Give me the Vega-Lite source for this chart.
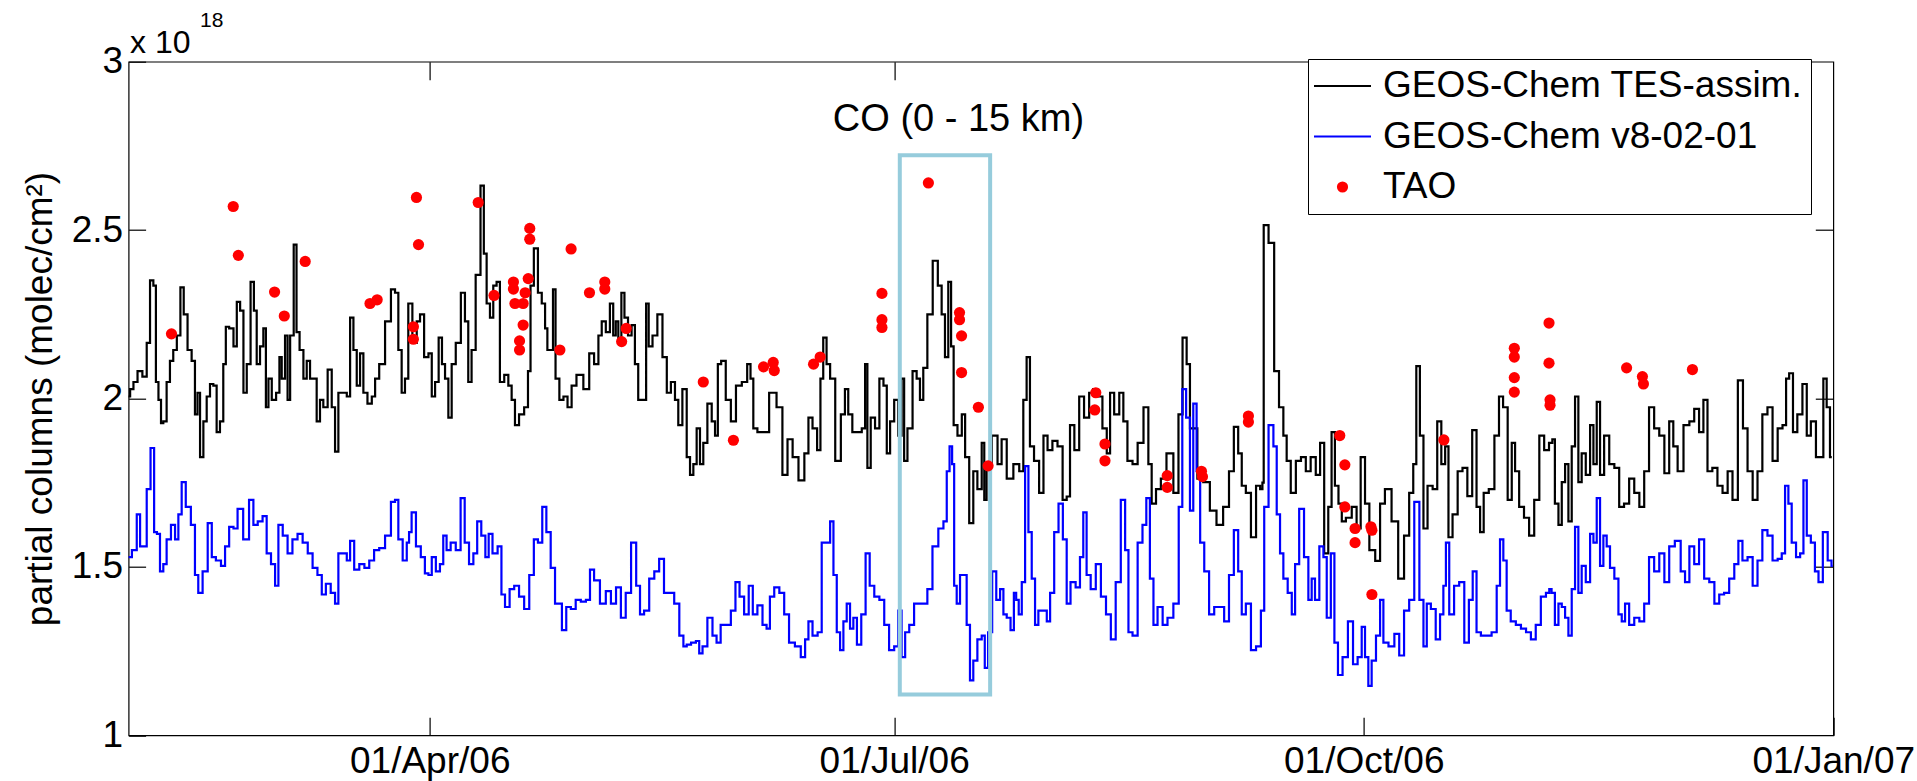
{
  "$schema": "https://vega.github.io/schema/vega-lite/v6.json",
  "width": 1704.7,
  "height": 673.6,
  "autosize": "none",
  "padding": {"left": 128.6, "top": 61.7, "right": 83.7, "bottom": 45.7},
  "background": "white",
  "config": {
    "font": "Liberation Sans",
    "view": {"stroke": "black", "strokeWidth": 1.2},
    "axis": {"grid": false, "domain": false, "tickColor": "black", "tickWidth": 1.2, "labelColor": "black", "labelFont": "Liberation Sans", "labelFontSize": 37, "titleFont": "Liberation Sans", "titleFontSize": 37, "titleFontWeight": "normal", "titleColor": "black"}
  },
  "datasets": {
    "tes": [
      {"d":0,"v":2.006},{"d":0.6,"v":2.028},{"d":1.3,"v":2.049},{"d":2.2,"v":2.081},{"d":3.2,"v":2.065},{"d":3.9,"v":2.165},{"d":4.5,"v":2.351},{"d":5.2,"v":2.335},{"d":5.5,"v":2.049},{"d":6.2,"v":1.996},{"d":6.5,"v":1.927},{"d":7.1,"v":1.932},{"d":7.8,"v":2.049},{"d":8.4,"v":2.112},{"d":9.1,"v":2.144},{"d":9.8,"v":2.187},{"d":10.5,"v":2.33},{"d":11.1,"v":2.25},{"d":12.0,"v":2.144},{"d":12.7,"v":2.112},{"d":13.3,"v":1.953},{"d":13.7,"v":2.017},{"d":14.3,"v":1.826},{"d":15.0,"v":1.932},{"d":15.6,"v":2.006},{"d":16.3,"v":2.043},{"d":16.9,"v":2.038},{"d":17.6,"v":1.9},{"d":18.2,"v":1.932},{"d":18.9,"v":2.102},{"d":19.2,"v":2.213},{"d":20.2,"v":2.208},{"d":20.9,"v":2.155},{"d":21.5,"v":2.287},{"d":22.2,"v":2.261},{"d":22.8,"v":2.017},{"d":23.5,"v":2.102},{"d":24.3,"v":2.346},{"d":24.8,"v":2.261},{"d":25.4,"v":2.102},{"d":26.1,"v":2.155},{"d":26.7,"v":2.208},{"d":27.1,"v":1.974},{"d":27.7,"v":2.059},{"d":28.4,"v":1.996},{"d":29.4,"v":2.017},{"d":29.7,"v":2.123},{"d":30.3,"v":2.059},{"d":31.0,"v":2.187},{"d":31.3,"v":1.996},{"d":32.0,"v":2.187},{"d":32.7,"v":2.457},{"d":33.1,"v":2.197},{"d":33.9,"v":2.144},{"d":34.6,"v":2.059},{"d":35.2,"v":2.112},{"d":35.9,"v":2.059},{"d":36.5,"v":2.059},{"d":37.2,"v":1.932},{"d":37.8,"v":1.996},{"d":38.5,"v":1.974},{"d":39.5,"v":2.086},{"d":40.1,"v":1.974},{"d":40.8,"v":1.842},{"d":41.4,"v":2.017},{"d":42.4,"v":2.017},{"d":43.1,"v":2.006},{"d":43.7,"v":2.24},{"d":44.4,"v":2.144},{"d":45.0,"v":2.038},{"d":45.7,"v":2.134},{"d":46.3,"v":2.017},{"d":47.3,"v":1.985},{"d":48.0,"v":2.006},{"d":48.6,"v":2.059},{"d":49.6,"v":2.102},{"d":50.9,"v":2.229},{"d":51.9,"v":2.324},{"d":52.5,"v":2.314},{"d":53.2,"v":2.144},{"d":53.8,"v":2.017},{"d":54.5,"v":2.059},
      {"d":55.1,"v":2.282},{"d":56.1,"v":2.165},{"d":56.8,"v":2.229},{"d":57.4,"v":2.25},{"d":58.4,"v":2.123},{"d":59.1,"v":2.134},{"d":59.7,"v":2.006},{"d":60.4,"v":2.049},{"d":61.1,"v":2.181},{"d":61.7,"v":2.102},{"d":62.3,"v":2.059},{"d":63.0,"v":1.943},{"d":63.6,"v":2.102},{"d":64.6,"v":2.165},{"d":65.6,"v":2.314},{"d":66.2,"v":2.229},{"d":66.9,"v":2.049},{"d":67.5,"v":2.144},{"d":68.5,"v":2.367},{"d":69.4,"v":2.632},{"d":69.8,"v":2.43},{"d":70.5,"v":2.282},{"d":71.1,"v":2.24},{"d":71.8,"v":2.335},{"d":72.4,"v":2.346},{"d":73.1,"v":2.049},{"d":74.1,"v":2.07},{"d":74.7,"v":2.038},{"d":75.4,"v":1.996},{"d":76.0,"v":1.921},{"d":77.0,"v":1.953},{"d":78.0,"v":1.974},{"d":78.5,"v":2.081},{"d":79.0,"v":2.335},{"d":79.8,"v":2.446},{"d":80.6,"v":2.314},{"d":81.3,"v":2.282},{"d":81.9,"v":2.208},{"d":82.2,"v":2.144},{"d":82.9,"v":2.144},{"d":83.4,"v":2.324},{"d":83.9,"v":2.059},{"d":84.9,"v":1.996},{"d":85.5,"v":2.006},{"d":86.5,"v":1.974},{"d":87.1,"v":2.038},{"d":88.4,"v":2.07},{"d":89.8,"v":2.028},{"d":90.7,"v":2.134},{"d":91.7,"v":2.102},{"d":92.4,"v":2.187},{"d":93.0,"v":2.229},{"d":94.0,"v":2.197},{"d":94.6,"v":2.282},{"d":95.3,"v":2.187},{"d":95.6,"v":2.229},{"d":96.3,"v":2.176},{"d":96.8,"v":2.314},{"d":97.5,"v":2.24},{"d":98.2,"v":2.187},{"d":98.9,"v":2.218},{"d":99.5,"v":2.102},{"d":100.2,"v":1.996},{"d":101.2,"v":1.996},{"d":101.6,"v":2.282},{"d":102.2,"v":2.155},{"d":103.1,"v":2.187},{"d":104.1,"v":2.25},{"d":105.1,"v":2.123},{"d":105.8,"v":2.017},{"d":106.7,"v":2.049},{"d":107.4,"v":1.996},{"d":108.0,"v":1.921},{"d":109.0,"v":2.028},{"d":109.7,"v":1.826},{"d":110.3,"v":1.773},
      {"d":111.0,"v":1.805},{"d":111.6,"v":1.911},{"d":112.3,"v":1.805},{"d":112.9,"v":1.868},{"d":113.9,"v":1.985},{"d":114.6,"v":1.932},{"d":115.2,"v":1.89},{"d":115.7,"v":2.102},{"d":116.5,"v":2.112},{"d":117.5,"v":1.996},{"d":118.5,"v":1.932},{"d":119.5,"v":2.038},{"d":120.8,"v":2.049},{"d":121.6,"v":2.102},{"d":122.1,"v":2.059},{"d":122.7,"v":1.911},{"d":123.7,"v":1.9},{"d":124.7,"v":1.9},{"d":126.3,"v":2.017},{"d":127.6,"v":1.974},{"d":128.6,"v":1.773},{"d":129.6,"v":1.879},{"d":130.6,"v":1.826},{"d":131.9,"v":1.757},{"d":132.9,"v":1.837},{"d":133.5,"v":1.943},{"d":134.5,"v":1.911},{"d":135.3,"v":1.847},{"d":135.8,"v":2.059},{"d":136.4,"v":2.181},{"d":137.1,"v":2.102},{"d":137.8,"v":2.059},{"d":139.1,"v":1.815},{"d":140.0,"v":1.953},{"d":140.7,"v":2.028},{"d":141.3,"v":1.953},{"d":142.3,"v":1.9},{"d":143.3,"v":1.9},{"d":144.0,"v":1.911},{"d":144.6,"v":2.102},{"d":144.9,"v":1.794},{"d":145.9,"v":1.943},{"d":146.6,"v":1.911},{"d":147.6,"v":2.059},{"d":148.2,"v":2.038},{"d":148.9,"v":1.837},{"d":149.5,"v":1.932},{"d":150.5,"v":1.996},{"d":151.1,"v":1.89},{"d":151.8,"v":2.059},{"d":152.1,"v":1.815},{"d":153.1,"v":1.911},{"d":154.1,"v":2.081},{"d":154.7,"v":2.059},{"d":155.4,"v":1.996},{"d":156.0,"v":2.091},{"d":157.0,"v":2.25},{"d":158.1,"v":2.409},{"d":159.0,"v":2.335},{"d":159.6,"v":2.25},{"d":160.3,"v":2.123},{"d":160.9,"v":2.346},{"d":161.4,"v":2.155},{"d":161.9,"v":1.921},{"d":162.9,"v":1.89},{"d":163.6,"v":1.953},{"d":164.2,"v":1.826},{"d":165.2,"v":1.63},{"d":165.8,"v":1.784},{"d":166.8,"v":1.731},{"d":167.5,"v":1.868},
      {"d":167.8,"v":1.699},{"d":168.4,"v":1.805},{"d":169.8,"v":1.89},{"d":170.7,"v":1.805},{"d":171.4,"v":1.879},{"d":172.7,"v":1.762},{"d":174.0,"v":1.805},{"d":175.0,"v":1.784},{"d":175.6,"v":1.996},{"d":176.3,"v":2.123},{"d":176.9,"v":1.858},{"d":177.9,"v":1.815},{"d":178.9,"v":1.72},{"d":179.6,"v":1.89},{"d":180.5,"v":1.847},{"d":181.5,"v":1.874},{"d":182.5,"v":1.858},{"d":183.5,"v":1.699},{"d":184.1,"v":1.709},{"d":184.8,"v":1.921},{"d":185.8,"v":1.847},{"d":186.7,"v":2.006},{"d":187.7,"v":1.943},{"d":188.7,"v":2.017},{"d":189.3,"v":2.028},{"d":190.3,"v":2.006},{"d":191.3,"v":1.911},{"d":192.0,"v":1.837},{"d":192.6,"v":2.017},{"d":193.6,"v":1.953},{"d":194.6,"v":2.017},{"d":195.2,"v":1.932},{"d":196.2,"v":1.815},{"d":197.2,"v":1.805},{"d":198.2,"v":1.868},{"d":199.5,"v":1.974},{"d":200.1,"v":1.805},{"d":200.8,"v":1.688},{"d":201.8,"v":1.731},{"d":202.7,"v":1.762},{"d":204.0,"v":1.837},{"d":205.4,"v":1.72},{"d":206.0,"v":1.953},{"d":207.0,"v":2.181},{"d":207.6,"v":2.102},{"d":208.3,"v":1.911},{"d":208.9,"v":1.911},{"d":209.9,"v":1.762},{"d":211.2,"v":1.752},{"d":212.5,"v":1.667},{"d":213.8,"v":1.625},{"d":215.1,"v":1.678},{"d":216.1,"v":1.784},{"d":217.0,"v":1.916},{"d":217.8,"v":1.837},{"d":218.4,"v":1.741},{"d":219.4,"v":1.72},{"d":220.4,"v":1.588},{"d":221.4,"v":1.741},{"d":222.0,"v":1.731},{"d":222.3,"v":1.75},{"d":222.5,"v":2.515},
      {"d":222.7,"v":2.515},{"d":224.0,"v":2.462},{"d":224.9,"v":2.081},{"d":225.9,"v":1.974},{"d":226.6,"v":1.89},{"d":227.2,"v":1.815},{"d":228.2,"v":1.72},{"d":229.2,"v":1.815},{"d":230.2,"v":1.826},{"d":231.1,"v":1.784},{"d":232.1,"v":1.826},{"d":233.1,"v":1.773},{"d":233.8,"v":1.868},{"d":234.7,"v":1.54},{"d":235.4,"v":1.678},{"d":236.0,"v":1.9},{"d":236.7,"v":1.741},{"d":237.4,"v":1.688},{"d":238.0,"v":1.635},{"d":239.0,"v":1.646},{"d":240.3,"v":1.678},{"d":240.9,"v":1.614},{"d":241.9,"v":1.826},{"d":242.6,"v":1.688},{"d":243.6,"v":1.55},{"d":244.9,"v":1.518},{"d":245.5,"v":1.688},{"d":246.8,"v":1.731},{"d":248.1,"v":1.635},{"d":249.4,"v":1.465},{"d":250.4,"v":1.593},{"d":251.4,"v":1.72},{"d":252.0,"v":1.805},{"d":252.6,"v":2.096},{"d":253.4,"v":1.89},{"d":254.0,"v":1.614},{"d":255.0,"v":1.741},{"d":256.0,"v":1.731},{"d":256.8,"v":1.932},{"d":257.6,"v":1.805},{"d":258.3,"v":1.858},{"d":258.9,"v":1.588},{"d":259.9,"v":1.656},{"d":260.9,"v":1.784},{"d":261.8,"v":1.794},{"d":262.8,"v":1.71},{"d":263.7,"v":1.906},{"d":264.5,"v":1.678},{"d":265.1,"v":1.603},{"d":265.9,"v":1.72},{"d":267.1,"v":1.731},{"d":268.1,"v":1.89},{"d":268.9,"v":2.006},{"d":269.7,"v":1.974},{"d":270.7,"v":1.699},{"d":271.3,"v":1.868},{"d":272.0,"v":1.784},{"d":272.9,"v":1.678},{"d":273.9,"v":1.646},{"d":274.9,"v":1.593},{"d":275.9,"v":1.699},{"d":276.9,"v":1.89},{"d":277.8,"v":1.847},{"d":278.8,"v":1.868},
      {"d":279.1,"v":1.879},{"d":279.8,"v":1.688},{"d":280.5,"v":1.625},{"d":281.1,"v":1.752},{"d":281.8,"v":1.805},{"d":282.4,"v":1.635},{"d":283.1,"v":1.858},{"d":283.7,"v":2.006},{"d":284.4,"v":1.752},{"d":285.0,"v":1.837},{"d":286.0,"v":1.773},{"d":286.7,"v":1.921},{"d":287.3,"v":1.805},{"d":288.0,"v":1.99},{"d":288.6,"v":1.773},{"d":289.6,"v":1.89},{"d":290.6,"v":1.805},{"d":291.6,"v":1.794},{"d":292.5,"v":1.678},{"d":293.5,"v":1.688},{"d":294.5,"v":1.762},{"d":295.5,"v":1.72},{"d":296.5,"v":1.678},{"d":297.4,"v":1.784},{"d":298.4,"v":1.974},{"d":299.4,"v":1.911},{"d":300.4,"v":1.89},{"d":301.4,"v":1.778},{"d":302.3,"v":1.932},{"d":303.0,"v":1.858},{"d":304.0,"v":1.784},{"d":305.3,"v":1.921},{"d":306.3,"v":1.932},{"d":307.2,"v":1.969},{"d":308.2,"v":1.9},{"d":308.9,"v":1.996},{"d":309.8,"v":1.784},{"d":310.8,"v":1.794},{"d":311.8,"v":1.741},{"d":312.8,"v":1.72},{"d":313.8,"v":1.784},{"d":314.7,"v":1.699},{"d":315.9,"v":2.054},{"d":316.7,"v":1.911},{"d":317.7,"v":1.784},{"d":318.7,"v":1.699},{"d":319.6,"v":1.784},{"d":320.6,"v":1.953},{"d":321.6,"v":1.974},{"d":322.6,"v":1.815},{"d":323.6,"v":1.911},{"d":324.5,"v":1.921},{"d":325.0,"v":2.059},{"d":325.7,"v":2.075},{"d":326.5,"v":1.9},{"d":327.4,"v":1.953},{"d":328.5,"v":2.043},{"d":329.1,"v":1.89},{"d":330.1,"v":1.932},{"d":331.1,"v":1.826},{"d":331.7,"v":1.826},{"d":332.4,"v":2.059},{"d":333.0,"v":1.974},{"d":333.7,"v":1.826}
    ],
    "v8": [
      {"d":0,"v":1.529},{"d":1.3,"v":1.55},{"d":1.9,"v":1.656},{"d":2.6,"v":1.561},{"d":3.2,"v":1.561},{"d":3.9,"v":1.731},{"d":4.7,"v":1.853},{"d":5.3,"v":1.603},{"d":5.8,"v":1.598},{"d":6.5,"v":1.487},{"d":7.1,"v":1.508},{"d":7.8,"v":1.582},{"d":8.8,"v":1.625},{"d":9.4,"v":1.582},{"d":10.1,"v":1.656},{"d":10.7,"v":1.752},{"d":11.7,"v":1.678},{"d":12.7,"v":1.625},{"d":13.3,"v":1.476},{"d":14.0,"v":1.423},{"d":15.0,"v":1.487},{"d":16.0,"v":1.63},{"d":16.6,"v":1.529},{"d":17.6,"v":1.519},{"d":18.6,"v":1.503},{"d":19.2,"v":1.561},{"d":20.2,"v":1.619},{"d":20.9,"v":1.614},{"d":21.8,"v":1.672},{"d":23.1,"v":1.582},{"d":24.1,"v":1.699},{"d":24.8,"v":1.625},{"d":25.8,"v":1.635},{"d":26.7,"v":1.651},{"d":27.4,"v":1.54},{"d":28.4,"v":1.508},{"d":29.0,"v":1.444},{"d":29.7,"v":1.625},{"d":30.7,"v":1.593},{"d":31.6,"v":1.54},{"d":32.6,"v":1.582},{"d":33.6,"v":1.598},{"d":34.6,"v":1.572},{"d":35.6,"v":1.54},{"d":36.5,"v":1.497},{"d":37.5,"v":1.476},{"d":38.2,"v":1.418},{"d":39.1,"v":1.45},{"d":40.1,"v":1.423},{"d":40.8,"v":1.391},{"d":41.4,"v":1.54},{"d":42.4,"v":1.54},{"d":43.1,"v":1.519},{"d":43.7,"v":1.577},{"d":44.7,"v":1.492},{"d":45.7,"v":1.508},{"d":46.7,"v":1.497},{"d":47.6,"v":1.519},{"d":48.6,"v":1.55},{"d":49.6,"v":1.556},{"d":50.9,"v":1.593},{"d":51.9,"v":1.693},{"d":52.5,"v":1.699},{"d":53.2,"v":1.582},{"d":54.2,"v":1.519},{"d":54.8,"v":1.572},
      {"d":55.1,"v":1.603},{"d":55.8,"v":1.662},{"d":56.8,"v":1.561},{"d":57.7,"v":1.529},{"d":58.4,"v":1.481},{"d":59.1,"v":1.476},{"d":59.7,"v":1.529},{"d":60.7,"v":1.487},{"d":61.3,"v":1.508},{"d":62.0,"v":1.593},{"d":62.6,"v":1.55},{"d":63.6,"v":1.572},{"d":64.6,"v":1.55},{"d":65.5,"v":1.704},{"d":66.2,"v":1.572},{"d":67.2,"v":1.508},{"d":67.9,"v":1.54},{"d":68.7,"v":1.635},{"d":69.5,"v":1.593},{"d":70.3,"v":1.529},{"d":70.8,"v":1.598},{"d":71.8,"v":1.54},{"d":72.8,"v":1.561},{"d":73.3,"v":1.418},{"d":74.2,"v":1.381},{"d":75.1,"v":1.434},{"d":76.0,"v":1.444},{"d":77.0,"v":1.412},{"d":78.0,"v":1.375},{"d":79.0,"v":1.476},{"d":79.8,"v":1.582},{"d":80.6,"v":1.572},{"d":81.5,"v":1.678},{"d":82.2,"v":1.603},{"d":83.2,"v":1.497},{"d":83.9,"v":1.391},{"d":84.5,"v":1.391},{"d":85.3,"v":1.312},{"d":86.2,"v":1.381},{"d":87.1,"v":1.375},{"d":88.1,"v":1.402},{"d":89.1,"v":1.397},{"d":90.1,"v":1.402},{"d":90.7,"v":1.492},{"d":91.7,"v":1.46},{"d":93.0,"v":1.391},{"d":94.0,"v":1.428},{"d":95.0,"v":1.391},{"d":96.0,"v":1.439},{"d":96.9,"v":1.349},{"d":97.9,"v":1.423},{"d":99.0,"v":1.572},{"d":99.9,"v":1.444},{"d":100.5,"v":1.359},{"d":101.5,"v":1.37},{"d":102.5,"v":1.465},{"d":103.5,"v":1.487},{"d":104.4,"v":1.524},{"d":105.4,"v":1.423},{"d":106.4,"v":1.423},{"d":107.4,"v":1.391},{"d":108.4,"v":1.296},{"d":109.0,"v":1.264},{"d":109.7,"v":1.269},{"d":110.7,"v":1.275},{"d":111.6,"v":1.28},
      {"d":112.0,"v":1.243},{"d":112.9,"v":1.264},{"d":113.9,"v":1.349},{"d":114.9,"v":1.296},{"d":115.5,"v":1.275},{"d":116.5,"v":1.328},{"d":117.5,"v":1.328},{"d":118.5,"v":1.37},{"d":119.3,"v":1.455},{"d":120.1,"v":1.412},{"d":121.1,"v":1.359},{"d":121.9,"v":1.444},{"d":122.7,"v":1.359},{"d":123.7,"v":1.386},{"d":124.7,"v":1.328},{"d":125.3,"v":1.317},{"d":126.0,"v":1.412},{"d":127.0,"v":1.439},{"d":128.0,"v":1.423},{"d":128.9,"v":1.359},{"d":129.9,"v":1.275},{"d":131.2,"v":1.264},{"d":132.2,"v":1.232},{"d":132.9,"v":1.285},{"d":133.5,"v":1.338},{"d":134.5,"v":1.296},{"d":135.5,"v":1.306},{"d":136.1,"v":1.572},{"d":137.1,"v":1.572},{"d":137.8,"v":1.635},{"d":138.4,"v":1.476},{"d":139.1,"v":1.306},{"d":139.7,"v":1.253},{"d":140.4,"v":1.338},{"d":141.0,"v":1.391},{"d":141.7,"v":1.317},{"d":142.3,"v":1.349},{"d":143.1,"v":1.269},{"d":144.0,"v":1.359},{"d":144.8,"v":1.54},{"d":145.6,"v":1.444},{"d":146.6,"v":1.412},{"d":147.6,"v":1.402},{"d":148.5,"v":1.328},{"d":149.5,"v":1.253},{"d":150.5,"v":1.264},{"d":151.1,"v":1.37},{"d":151.8,"v":1.232},{"d":152.5,"v":1.306},{"d":153.4,"v":1.328},{"d":154.4,"v":1.391},{"d":156.0,"v":1.391},{"d":157.0,"v":1.434},{"d":158.0,"v":1.561},{"d":159.3,"v":1.614},{"d":160.0,"v":1.635},{"d":160.6,"v":1.784},{"d":161.1,"v":1.858},{"d":161.6,"v":1.805},{"d":161.9,"v":1.444},{"d":162.6,"v":1.391},{"d":163.2,"v":1.476},{"d":163.9,"v":1.476},{"d":164.5,"v":1.328},{"d":165.2,"v":1.163},{"d":165.8,"v":1.222},{"d":166.8,"v":1.285},{"d":167.5,"v":1.296},
      {"d":168.0,"v":1.2},{"d":168.8,"v":1.306},{"d":169.6,"v":1.487},{"d":170.4,"v":1.402},{"d":171.1,"v":1.434},{"d":171.7,"v":1.359},{"d":172.4,"v":1.349},{"d":173.2,"v":1.312},{"d":173.7,"v":1.423},{"d":174.1,"v":1.402},{"d":174.7,"v":1.359},{"d":175.3,"v":1.455},{"d":176.0,"v":1.799},{"d":176.6,"v":1.603},{"d":177.3,"v":1.465},{"d":177.9,"v":1.328},{"d":178.6,"v":1.37},{"d":179.6,"v":1.37},{"d":180.2,"v":1.338},{"d":180.9,"v":1.423},{"d":181.8,"v":1.603},{"d":182.6,"v":1.688},{"d":183.5,"v":1.582},{"d":184.1,"v":1.391},{"d":185.0,"v":1.455},{"d":186.1,"v":1.439},{"d":186.7,"v":1.529},{"d":187.4,"v":1.662},{"d":188.0,"v":1.476},{"d":189.0,"v":1.434},{"d":190.0,"v":1.508},{"d":191.0,"v":1.412},{"d":192.0,"v":1.359},{"d":192.9,"v":1.285},{"d":193.9,"v":1.455},{"d":194.9,"v":1.699},{"d":195.6,"v":1.55},{"d":196.2,"v":1.306},{"d":197.2,"v":1.296},{"d":198.2,"v":1.572},{"d":199.1,"v":1.625},{"d":199.7,"v":1.704},{"d":200.5,"v":1.465},{"d":201.1,"v":1.328},{"d":202.1,"v":1.381},{"d":203.1,"v":1.328},{"d":204.0,"v":1.349},{"d":205.4,"v":1.391},{"d":206.1,"v":1.678},{"d":206.8,"v":2.028},{"d":207.6,"v":1.943},{"d":208.3,"v":1.667},{"d":208.9,"v":1.985},{"d":209.6,"v":1.784},{"d":210.3,"v":1.572},{"d":211.2,"v":1.487},{"d":212.2,"v":1.359},{"d":213.2,"v":1.381},{"d":214.2,"v":1.381},{"d":215.1,"v":1.338},{"d":216.1,"v":1.476},{"d":217.0,"v":1.609},{"d":217.8,"v":1.487},{"d":218.4,"v":1.359},{"d":219.4,"v":1.391},{"d":220.4,"v":1.253},{"d":221.4,"v":1.264},{"d":222.3,"v":1.37},
      {"d":222.7,"v":1.678},{"d":224.0,"v":1.921},{"d":224.6,"v":1.858},{"d":225.3,"v":1.656},{"d":225.9,"v":1.54},{"d":226.6,"v":1.465},{"d":227.6,"v":1.423},{"d":228.2,"v":1.359},{"d":228.9,"v":1.508},{"d":229.8,"v":1.672},{"d":230.8,"v":1.529},{"d":231.5,"v":1.402},{"d":232.1,"v":1.465},{"d":232.8,"v":1.402},{"d":233.8,"v":1.561},{"d":234.4,"v":1.529},{"d":235.1,"v":1.349},{"d":236.0,"v":1.54},{"d":236.5,"v":1.275},{"d":237.4,"v":1.179},{"d":238.3,"v":1.232},{"d":239.5,"v":1.338},{"d":240.3,"v":1.211},{"d":241.3,"v":1.232},{"d":241.9,"v":1.322},{"d":242.6,"v":1.232},{"d":243.2,"v":1.147},{"d":243.9,"v":1.222},{"d":244.9,"v":1.296},{"d":245.5,"v":1.402},{"d":246.2,"v":1.275},{"d":247.5,"v":1.264},{"d":248.5,"v":1.301},{"d":249.4,"v":1.237},{"d":250.4,"v":1.37},{"d":251.4,"v":1.402},{"d":252.4,"v":1.693},{"d":253.4,"v":1.402},{"d":254.0,"v":1.264},{"d":254.7,"v":1.391},{"d":255.6,"v":1.375},{"d":256.6,"v":1.285},{"d":257.3,"v":1.359},{"d":257.9,"v":1.444},{"d":258.3,"v":1.572},{"d":259.2,"v":1.359},{"d":260.2,"v":1.444},{"d":261.2,"v":1.455},{"d":262.2,"v":1.275},{"d":263.0,"v":1.402},{"d":263.7,"v":1.487},{"d":264.5,"v":1.306},{"d":265.4,"v":1.296},{"d":266.4,"v":1.296},{"d":267.7,"v":1.306},{"d":268.4,"v":1.444},{"d":269.0,"v":1.582},{"d":269.7,"v":1.519},{"d":270.3,"v":1.37},{"d":271.3,"v":1.338},{"d":272.3,"v":1.328},{"d":273.3,"v":1.317},{"d":274.3,"v":1.306},{"d":275.2,"v":1.285},{"d":276.2,"v":1.328},{"d":277.2,"v":1.412},{"d":278.2,"v":1.423},
      {"d":278.5,"v":1.434},{"d":279.1,"v":1.423},{"d":279.8,"v":1.328},{"d":280.5,"v":1.391},{"d":281.1,"v":1.381},{"d":281.8,"v":1.349},{"d":282.4,"v":1.296},{"d":283.1,"v":1.434},{"d":283.7,"v":1.619},{"d":284.4,"v":1.423},{"d":285.0,"v":1.503},{"d":286.0,"v":1.455},{"d":286.7,"v":1.598},{"d":287.3,"v":1.572},{"d":288.0,"v":1.704},{"d":288.6,"v":1.503},{"d":289.3,"v":1.593},{"d":289.9,"v":1.561},{"d":290.6,"v":1.497},{"d":291.6,"v":1.465},{"d":292.2,"v":1.359},{"d":292.9,"v":1.338},{"d":293.5,"v":1.391},{"d":294.5,"v":1.328},{"d":295.5,"v":1.349},{"d":296.5,"v":1.338},{"d":297.4,"v":1.391},{"d":298.4,"v":1.529},{"d":299.4,"v":1.487},{"d":300.4,"v":1.54},{"d":301.4,"v":1.455},{"d":302.3,"v":1.561},{"d":303.6,"v":1.577},{"d":304.6,"v":1.487},{"d":305.3,"v":1.455},{"d":306.3,"v":1.561},{"d":307.2,"v":1.508},{"d":308.2,"v":1.582},{"d":309.2,"v":1.465},{"d":310.2,"v":1.455},{"d":311.2,"v":1.391},{"d":312.1,"v":1.418},{"d":313.1,"v":1.423},{"d":314.1,"v":1.465},{"d":315.1,"v":1.508},{"d":315.7,"v":1.577},{"d":316.7,"v":1.519},{"d":317.7,"v":1.529},{"d":318.7,"v":1.444},{"d":319.6,"v":1.519},{"d":320.6,"v":1.609},{"d":321.6,"v":1.593},{"d":322.6,"v":1.519},{"d":323.6,"v":1.524},{"d":324.2,"v":1.54},{"d":324.9,"v":1.741},{"d":325.5,"v":1.688},{"d":326.2,"v":1.572},{"d":327.2,"v":1.529},{"d":327.8,"v":1.54},{"d":328.5,"v":1.757},{"d":329.1,"v":1.593},{"d":330.1,"v":1.572},{"d":330.7,"v":1.487},{"d":331.5,"v":1.455},{"d":332.4,"v":1.603},{"d":333.4,"v":1.519},{"d":333.9,"v":1.503}
    ],
    "tao": [
      {"d":8.4,"v":2.192},{"d":20.5,"v":2.57},{"d":21.5,"v":2.425},{"d":28.6,"v":2.316},{"d":30.5,"v":2.245},{"d":34.6,"v":2.407},{"d":47.3,"v":2.282},{"d":48.7,"v":2.293},{"d":55.8,"v":2.213},{"d":55.8,"v":2.176},{"d":56.4,"v":2.597},{"d":56.8,"v":2.457},{"d":68.5,"v":2.582},{"d":71.6,"v":2.306},{"d":75.4,"v":2.346},{"d":75.4,"v":2.325},{"d":75.7,"v":2.282},{"d":77.3,"v":2.282},{"d":77.7,"v":2.314},{"d":78.3,"v":2.356},{"d":78.6,"v":2.505},{"d":78.6,"v":2.473},{"d":77.3,"v":2.218},{"d":76.6,"v":2.171},{"d":76.6,"v":2.144},{"d":84.5,"v":2.144},{"d":86.7,"v":2.444},{"d":90.3,"v":2.314},{"d":93.3,"v":2.346},{"d":93.3,"v":2.325},{"d":97.5,"v":2.208},{"d":96.6,"v":2.169},{"d":112.6,"v":2.049},{"d":118.5,"v":1.876},{"d":124.4,"v":2.094},{"d":126.3,"v":2.107},{"d":126.5,"v":2.083},{"d":134.2,"v":2.102},{"d":135.5,"v":2.123},{"d":147.6,"v":2.312},{"d":147.6,"v":2.234},{"d":147.6,"v":2.211},{"d":156.7,"v":2.64},{"d":162.8,"v":2.255},{"d":162.8,"v":2.234},{"d":163.2,"v":2.186},{"d":163.2,"v":2.077},{"d":166.5,"v":1.974},{"d":168.4,"v":1.8},{"d":189.5,"v":2.017},{"d":189.3,"v":1.966},{"d":191.3,"v":1.865},{"d":191.3,"v":1.815},{"d":203.5,"v":1.771},{"d":203.5,"v":1.736},{"d":210.2,"v":1.784},{"d":210.4,"v":1.768},{"d":219.4,"v":1.948},{"d":219.4,"v":1.93},{"d":237.3,"v":1.89},{"d":238.3,"v":1.803},{"d":238.3,"v":1.678},{"d":240.3,"v":1.614},{"d":240.3,"v":1.572},{"d":243.4,"v":1.619},{"d":243.6,"v":1.609},{"d":243.6,"v":1.418},{"d":257.7,"v":1.877},{"d":271.5,"v":2.149},{"d":271.5,"v":2.123},{"d":271.5,"v":2.062},{"d":271.5,"v":2.019},{"d":278.3,"v":2.224},{"d":278.3,"v":2.105},{"d":278.5,"v":1.996},{"d":278.5,"v":1.98},{"d":293.5,"v":2.091},{"d":296.6,"v":2.065},{"d":296.8,"v":2.043},{"d":306.4,"v":2.086}
    ]
  },
  "layer": [
    {
      "layer": [
        {"data": {"name": "tes"}, "mark": {"type": "line", "strokeWidth": 2.2, "interpolate": "step"},
         "encoding": {
           "x": {"field": "d", "type": "quantitative", "title": null, "scale": {"domain": [0, 334], "nice": false, "zero": false},
                 "axis": {"orient": "bottom", "title": null, "values": [59, 150, 242, 334], "labelExpr": "datum.value == 59 ? '01/Apr/06' : datum.value == 150 ? '01/Jul/06' : datum.value == 242 ? '01/Oct/06' : '01/Jan/07'", "tickSize": -18, "labelPadding": 26, "labelFlush": false, "labelOverlap": false, "labelBound": false}},
           "y": {"field": "v", "type": "quantitative", "title": "partial columns (molec/cm²)", "scale": {"domain": [1, 3], "nice": false, "zero": false},
                 "axis": {"orient": "left", "title": "partial columns (molec/cm²)", "values": [1, 1.5, 2, 2.5, 3], "format": "~g", "tickSize": -17, "labelPadding": 23, "titlePadding": 12, "labelOverlap": false}},
           "color": {"datum": "GEOS-Chem TES-assim.", "type": "nominal",
             "scale": {"domain": ["GEOS-Chem TES-assim.", "GEOS-Chem v8-02-01", "TAO"], "range": ["#000000", "#0000ff", "#ff0000"]},
             "legend": {"orient": "none", "legendX": 1179.4, "legendY": -2.7, "title": null, "direction": "vertical",
               "padding": 8.5, "strokeColor": "black", "fillColor": "white", "cornerRadius": 0,
               "labelFont": "Liberation Sans", "labelFontSize": 37, "labelColor": "black", "labelLimit": 1000,
               "symbolType": "stroke", "symbolSize": 3249, "symbolStrokeWidth": 2, "rowPadding": 12.5, "labelOffset": 22, "symbolOffset": 7.5,
               "encode": {"symbols": {"update": {
                 "shape": {"signal": "datum.value === 'TAO' ? 'circle' : 'stroke'"},
                 "size": {"signal": "datum.value === 'TAO' ? 125 : 3249"},
                 "fill": {"signal": "datum.value === 'TAO' ? '#ff0000' : 'transparent'"},
                 "strokeWidth": {"signal": "datum.value === 'TAO' ? 0 : 2"}
               }}}}}}},
        {"data": {"name": "v8"}, "mark": {"type": "line", "strokeWidth": 2.2, "interpolate": "step"},
         "encoding": {
           "x": {"field": "d", "type": "quantitative", "title": null},
           "y": {"field": "v", "type": "quantitative", "title": "partial columns (molec/cm²)"},
           "color": {"datum": "GEOS-Chem v8-02-01", "type": "nominal"}}},
        {"data": {"values": [{"d": 151.1, "d2": 168.8, "v": 2.722, "v2": 1.121}]},
         "mark": {"type": "rect", "fillOpacity": 0, "stroke": "#96CCDC", "strokeWidth": 4},
         "encoding": {
           "x": {"field": "d", "type": "quantitative", "title": null}, "x2": {"field": "d2"},
           "y": {"field": "v", "type": "quantitative", "title": "partial columns (molec/cm²)"}, "y2": {"field": "v2"}}},
        {"data": {"name": "tao"}, "mark": {"type": "circle", "size": 125, "opacity": 1},
         "encoding": {
           "x": {"field": "d", "type": "quantitative", "title": null},
           "y": {"field": "v", "type": "quantitative", "title": "partial columns (molec/cm²)"},
           "color": {"datum": "TAO", "type": "nominal"}}},
        {"data": {"values": [{"label": "CO (0 - 15 km)"}]},
         "mark": {"type": "text", "font": "Liberation Sans", "fontSize": 38, "fill": "black", "align": "center", "baseline": "alphabetic"},
         "encoding": {"x": {"datum": 162.6, "type": "quantitative"}, "y": {"datum": 2.795, "type": "quantitative"}, "text": {"field": "label", "type": "nominal"}}},
        {"data": {"values": [{"label": "x 10"}]},
         "mark": {"type": "text", "font": "Liberation Sans", "fontSize": 32, "fill": "black", "align": "left", "baseline": "alphabetic", "dx": 1.5, "dy": -9},
         "encoding": {"x": {"datum": 0, "type": "quantitative"}, "y": {"datum": 3, "type": "quantitative"}, "text": {"field": "label", "type": "nominal"}}},
        {"data": {"values": [{"label": "18"}]},
         "mark": {"type": "text", "font": "Liberation Sans", "fontSize": 21, "fill": "black", "align": "left", "baseline": "alphabetic", "dx": 71.4, "dy": -35},
         "encoding": {"x": {"datum": 0, "type": "quantitative"}, "y": {"datum": 3, "type": "quantitative"}, "text": {"field": "label", "type": "nominal"}}}
      ]
    },
    {
      "data": {"name": "tao"},
      "mark": {"type": "point", "opacity": 0},
      "encoding": {
        "x": {"field": "d", "type": "quantitative", "axis": {"orient": "top", "title": null, "values": [59, 150, 242], "labels": false, "tickSize": -18}},
        "y": {"field": "v", "type": "quantitative", "axis": {"orient": "right", "title": null, "values": [1.5, 2, 2.5], "labels": false, "tickSize": -18}}
      }
    }
  ],
  "resolve": {"axis": {"x": "independent", "y": "independent"}}
}
